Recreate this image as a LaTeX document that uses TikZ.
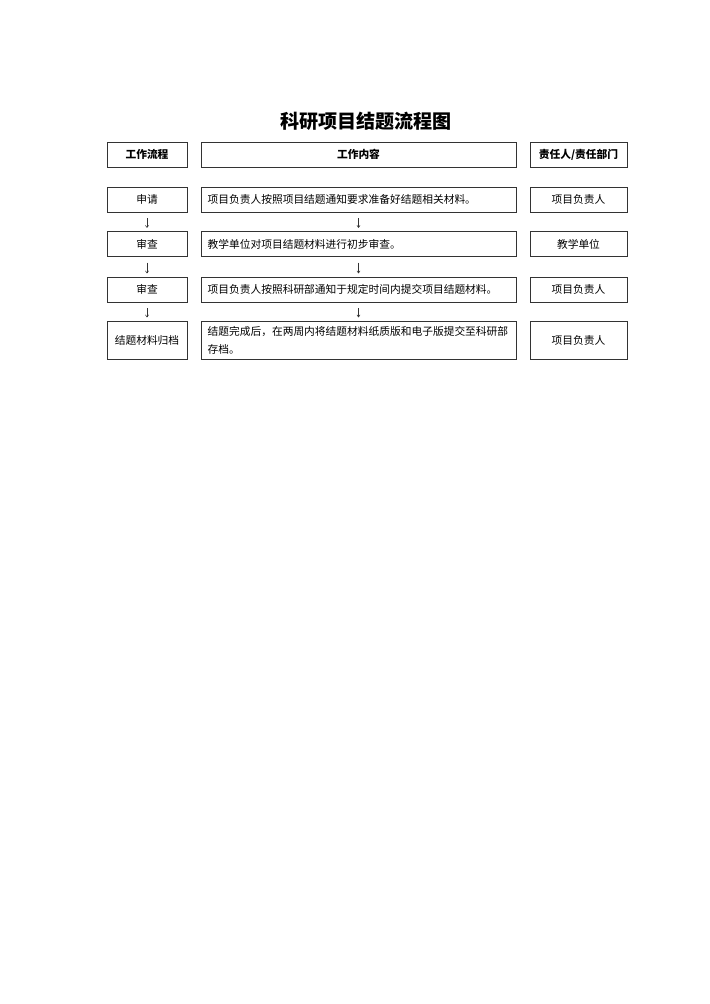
\documentclass[tikz,border=0pt]{standalone}
\usepackage{fontspec}
\usepackage{tikz}
\usetikzlibrary{arrows.meta}
\setmainfont{Noto Sans CJK SC}
\definecolor{ln}{rgb}{0.2, 0.2, 0.2}

\tikzset{%
  box/.style={draw=ln, line width=0.6pt, inner sep=0pt, minimum height=21pt},
  flow/.style={box, minimum width=67.1pt},
  work/.style={box, minimum width=264.1pt, text width=253pt, align=left},
  resp/.style={box, minimum width=81.3pt},
  head/.style={font=\fontsize{9}{11}\selectfont\bfseries},
  body/.style={font=\fontsize{9}{15.1}\selectfont},
  arr/.style={-{To[length=2.2pt,width=3pt]}, line width=0.45pt, draw=ln,
              shorten <=4.8pt, shorten >=2.8pt}
}

\begin{document}
\begin{tikzpicture}[x=0.8385pt, y=-0.8385pt]%
  \useasboundingbox (0,0) rectangle (710,1004);
  % title
  \node [font=\fontsize{16}{19}\selectfont\bfseries] (title) at (366,121.5) {科研项目结题流程图};
  % header row
  \node [flow, head] (hf) at (147,154.5)   {工作流程};
  \node [work, head, align=center] (hw) at (358.5,154.5) {工作内容};
  \node [resp, head] (hr) at (578.5,154.5) {责任人/责任部门};
  % flow column
  \node [flow, body] (f1) at (147,199.5) {申请};
  \node [flow, body] (f2) at (147,244)   {审查};
  \node [flow, body] (f3) at (147,289.5) {审查};
  \node [flow, body, minimum height=31.9pt] (f4) at (147,340) {结题材料归档};
  % work column
  \node [work, body] (w1) at (358.5,199.5) {项目负责人按照项目结题通知要求准备好结题相关材料。};
  \node [work, body] (w2) at (358.5,244)   {教学单位对项目结题材料进行初步审查。};
  \node [work, body] (w3) at (358.5,289.5) {项目负责人按照科研部通知于规定时间内提交项目结题材料。};
  \node [work, body, minimum height=31.9pt] (w4) at (358.5,340)
    {结题完成后，在两周内将结题材料纸质版和电子版提交至科研部\\存档。};
  % responsible column
  \node [resp, body] (r1) at (578.5,199.5) {项目负责人};
  \node [resp, body] (r2) at (578.5,244)   {教学单位};
  \node [resp, body] (r3) at (578.5,289.5) {项目负责人};
  \node [resp, body, minimum height=31.9pt] (r4) at (578.5,340) {项目负责人};
  % arrows
  \draw [arr] (f1) -- (f2);
  \draw [arr] (f2) -- (f3);
  \draw [arr] (f3) -- (f4);
  \draw [arr] (w1) -- (w2);
  \draw [arr] (w2) -- (w3);
  \draw [arr] (w3) -- (w4);
\end{tikzpicture}
\end{document}
